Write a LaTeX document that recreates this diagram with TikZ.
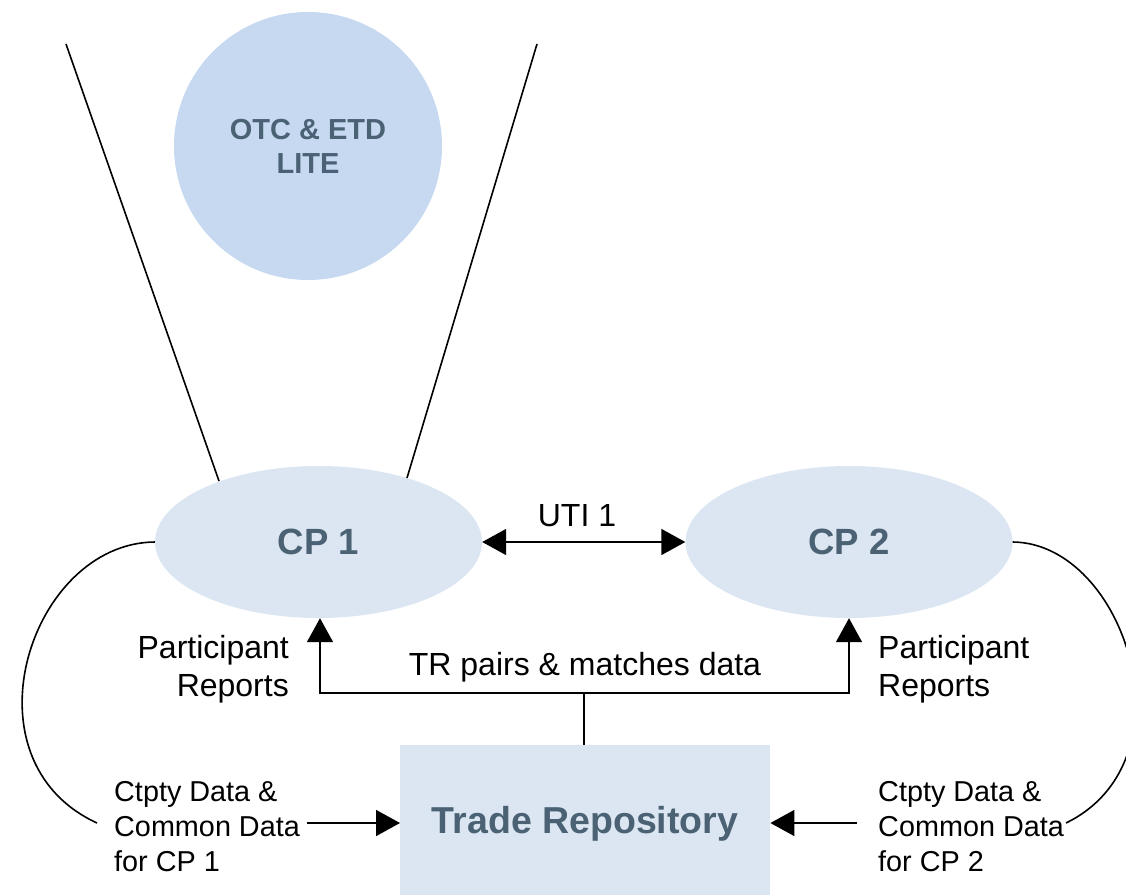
\documentclass[tikz,border=0pt]{standalone}
\usepackage{fontspec}
\setmainfont{Liberation Sans}
\usetikzlibrary{arrows.meta,shapes.geometric}
\definecolor{circfill}{HTML}{C6D9F0}
\definecolor{ellfill}{HTML}{DCE6F2}
\definecolor{boldtxt}{HTML}{4A6273}
\tikzset{
  tri/.style={-{Triangle[length=24pt,width=26pt]}},
  line/.style={line width=1.6pt,black},
  cpnode/.style={ellipse,fill=ellfill,minimum width=327pt,minimum height=152pt,inner sep=0pt,
    font=\fontsize{36.5}{42}\selectfont\bfseries,text=boldtxt},
  lbl/.style={font=\fontsize{32}{38}\selectfont,inner sep=0pt},
  ctlbl/.style={font=\fontsize{28.8}{35}\selectfont,inner sep=0pt,align=left,anchor=west},
}
\begin{document}
\begin{tikzpicture}[x=1pt,y=-1pt]
\useasboundingbox (0,0) rectangle (1126,894);
% top circle
\node[circle,fill=circfill,minimum size=268pt,inner sep=0pt,align=center,
  font=\fontsize{29}{34}\selectfont\bfseries,text=boldtxt] (otc) at (308,146) {OTC \& ETD\\LITE};
\coordinate (l1) at (66,44);
\coordinate (r1) at (537,44);
% CP nodes
\node[cpnode] (cp1) at (318.5,542) {CP 1};
\node[cpnode] (cp2) at (849,542) {CP 2};
\draw[line] (l1) -- (219,481);
\draw[line] (r1) -- (407,478);
% Trade repository
\node[rectangle,fill=ellfill,minimum width=370pt,minimum height=150pt,inner sep=0pt,anchor=north west] (tr) at (400,745) {};
\node[font=\fontsize{37.5}{42}\selectfont\bfseries,text=boldtxt] (trtext) at (585,824) {Trade Repository};
% UTI arrow
\draw[line,{Triangle[length=24pt,width=26pt]}-{Triangle[length=24pt,width=26pt]}] (cp1.east) -- (cp2.west);
\node[lbl] (uti) at (577,516) {UTI 1};
% TR pairs connector
\coordinate (trtop) at (584,745);
\coordinate (junc) at (584,693);
\draw[line] (trtop) -- (junc);
\draw[line,tri] (junc) -- (320,693) -- (cp1.south -| 320,0);
\draw[line,tri] (junc) -- (849,693) -- (cp2.south);
\node[lbl] (trpairs) at (585,667) {TR pairs \& matches data};
% participant reports
\node[lbl,align=right,anchor=east] (pr1) at (289,669) {Participant\\Reports};
\node[lbl,align=left,anchor=west] (pr2) at (878,669) {Participant\\Reports};
% ctpty labels
\node[ctlbl] (ct1) at (114,827) {Ctpty Data \&\\Common Data\\for CP 1};
\node[ctlbl] (ct2) at (878,827) {Ctpty Data \&\\Common Data\\for CP 2};
\draw[line,tri] (307,823) -- (tr.west |- 0,823);
\draw[line,tri] (857,823) -- (tr.east |- 0,823);
% side curves
\coordinate (lc) at (97,823);
\coordinate (rc) at (1066,823);
\draw[line] (cp1.west) .. controls (30,543) and (-40,760) .. (lc);
\draw[line] (cp2.east) .. controls (1125,543) and (1195,760) .. (rc);
\end{tikzpicture}
\end{document}
